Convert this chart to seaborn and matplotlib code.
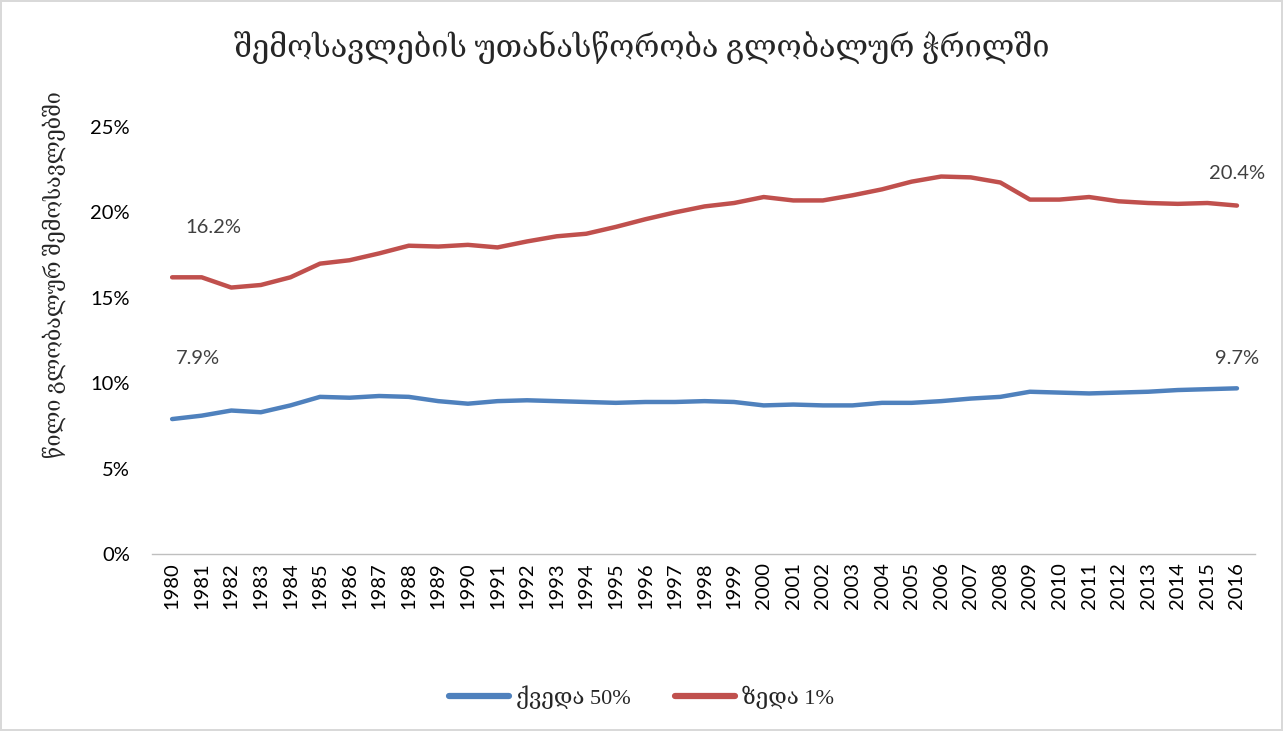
import matplotlib
matplotlib.use("Agg")
import matplotlib.pyplot as plt
import seaborn as sns
import pandas as pd
import numpy as np
from matplotlib.ticker import PercentFormatter

years = list(range(1980, 2017))
bottom50 = [7.9, 8.1, 8.4, 8.3, 8.7, 9.2, 9.15, 9.25, 9.2, 8.95, 8.8, 8.95, 9.0, 8.95, 8.9,
            8.85, 8.9, 8.9, 8.95, 8.9, 8.7, 8.75, 8.7, 8.7, 8.85, 8.85, 8.95, 9.1, 9.2, 9.5,
            9.45, 9.4, 9.45, 9.5, 9.6, 9.65, 9.7]
top1 = [16.2, 16.2, 15.6, 15.75, 16.2, 17.0, 17.2, 17.6, 18.05, 18.0, 18.1, 17.95, 18.3, 18.6,
        18.75, 19.15, 19.6, 20.0, 20.35, 20.55, 20.9, 20.7, 20.7, 21.0, 21.35, 21.8, 22.1, 22.05,
        21.75, 20.75, 20.75, 20.9, 20.65, 20.55, 20.5, 20.55, 20.4]
series_names = ["ქვედა 50%", "ზედა 1%"]
colors = ["#4F81BD", "#C0504D"]
title = "შემოსავლების უთანასწორობა გლობალურ ჭრილში"
ylabel = "წილი გლობალურ შემოსავლებში"

df = pd.DataFrame({
    "year": years * 2,
    "value": bottom50 + top1,
    "series": [series_names[0]] * len(years) + [series_names[1]] * len(years),
})

sns.set_theme(style="white")
serif = ["Liberation Serif", "DejaVu Serif"]
sans = ["Lato", "DejaVu Sans"]
plt.rcParams["font.family"] = sans

fig = plt.figure(figsize=(12.83, 7.31), dpi=100, edgecolor="#d9d9d9", linewidth=1.5)
ax = fig.add_axes([152 / 1283, 1 - 554 / 731, (1255 - 152) / 1283, (554 - 127) / 731])

sns.lineplot(data=df, x="year", y="value", hue="series", palette=colors,
             linewidth=3.2, ax=ax, legend=True)

ax.set_ylim(0, 25)
ax.set_xlim(1979.32, 2016.61)
ax.set_yticks([0, 5, 10, 15, 20, 25])
ax.yaxis.set_major_formatter(PercentFormatter(decimals=0))
ax.set_xticks(years)
ax.set_xticklabels([str(y) for y in years], rotation=90)
ax.tick_params(axis="both", labelsize=14.5, colors="#000000", length=0)
ax.tick_params(axis="y", pad=16)
ax.tick_params(axis="x", pad=6)
for s in ["top", "right", "left"]:
    ax.spines[s].set_visible(False)
ax.spines["bottom"].set_color("#bfbfbf")
ax.spines["bottom"].set_linewidth(1)
ax.grid(False)
ax.set_xlabel("")
ax.set_ylabel(ylabel, family=serif, fontsize=15.5)
ax.yaxis.set_label_coords(-0.078, 0.655)

# data labels
labels = [
    (years[0], top1[0], f"{top1[0]:.1f}%", (41, 50)),
    (years[-1], top1[-1], f"{top1[-1]:.1f}%", (0, 32)),
    (years[0], bottom50[0], f"{bottom50[0]:.1f}%", (26, 61)),
    (years[-1], bottom50[-1], f"{bottom50[-1]:.1f}%", (0, 30)),
]
for x, y, t, off in labels:
    ax.annotate(t, (x, y), xytext=off, textcoords="offset pixels", ha="center", va="center",
                fontsize=14.5, color="#404040")

fig.text(0.5, 1 - 48 / 731, title, ha="center", va="center", fontsize=22, family=serif)

leg = ax.legend(loc="center", bbox_to_anchor=(0.5, 1 - 697 / 731), bbox_transform=fig.transFigure,
                ncol=2, frameon=False, prop={"family": serif, "size": 16}, handlelength=2.7,
                columnspacing=2.0, handletextpad=0.3)
for line in leg.get_lines():
    line.set_linewidth(4.5)

fig.savefig("out.png", dpi=100, edgecolor=fig.get_edgecolor())
